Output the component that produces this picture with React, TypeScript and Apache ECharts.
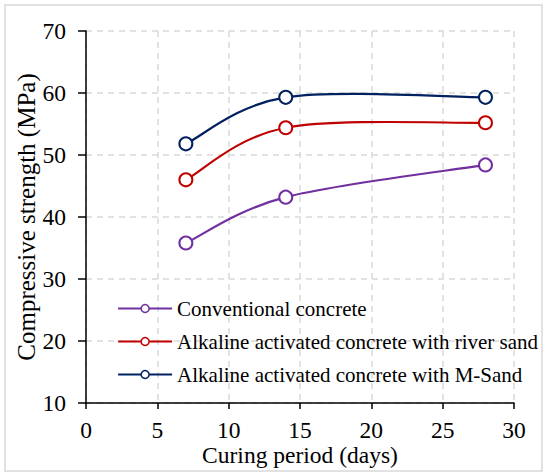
import React, { useEffect, useRef } from "react";
import * as echarts from "echarts";

const days = [7, 14, 28];
const conventional = [35.8, 43.2, 48.4];
const riverSand = [46.0, 54.4, 55.2];
const mSand = [51.8, 59.3, 59.3];
const seriesNames = [
  "Conventional concrete",
  "Alkaline activated concrete with river sand",
  "Alkaline activated concrete with M-Sand",
];
const colors = ["#7030A0", "#C00000", "#002060"];

const FONT = "'Liberation Serif', 'Times New Roman', serif";

export default function App() {
  const ref = useRef<HTMLDivElement>(null);
  useEffect(() => {
    if (!ref.current) return;
    const chart = echarts.init(ref.current, undefined, { renderer: "svg" });
    const all = [conventional, riverSand, mSand];

    const curveSeries = all.map((vals, i) => ({
      type: "custom",
      silent: true,
      z: 2,
      data: days.map((d, j) => [d, vals[j]]),
      encode: { x: 0, y: 1 },
      renderItem: (params: any, api: any) => {
        const k = params.dataIndex;
        if (k >= days.length - 1) return null;
        const pts = days.map((d, j) => api.coord([d, vals[j]]));
        const p0 = pts[Math.max(k - 1, 0)];
        const p1 = pts[k];
        const p2 = pts[k + 1];
        const p3 = pts[Math.min(k + 2, pts.length - 1)];
        return {
          type: "bezierCurve",
          shape: {
            x1: p1[0],
            y1: p1[1],
            x2: p2[0],
            y2: p2[1],
            cpx1: p1[0] + (p2[0] - p0[0]) / 6,
            cpy1: p1[1] + (p2[1] - p0[1]) / 6,
            cpx2: p2[0] - (p3[0] - p1[0]) / 6,
            cpy2: p2[1] - (p3[1] - p1[1]) / 6,
          },
          style: { fill: "none", stroke: colors[i], lineWidth: 2.2 },
        };
      },
    }));

    const markerSeries = all.map((vals, i) => ({
      name: seriesNames[i],
      type: "line",
      data: days.map((d, j) => [d, vals[j]]),
      symbol: "circle",
      symbolSize: 13,
      lineStyle: { color: colors[i], width: 2, opacity: 0 },
      itemStyle: { color: "#ffffff", borderColor: colors[i], borderWidth: 2 },
      z: 5,
    }));

    chart.setOption({
      animation: false,
      backgroundColor: "#ffffff",
      graphic: [
        {
          type: "rect",
          shape: { x: 5, y: 5, width: 537, height: 466 },
          style: { fill: "none", stroke: "#d9d9d9", lineWidth: 1.5 },
          silent: true,
        },
      ],
      grid: { left: 86, right: 33, top: 31, bottom: 72 },
      xAxis: {
        type: "value",
        min: 0,
        max: 30,
        interval: 5,
        name: "Curing period (days)",
        nameLocation: "middle",
        nameGap: 40,
        nameMoveOverlap: false,
        nameTextStyle: { fontFamily: FONT, fontSize: 23.5, color: "#000" },
        axisLine: { show: true, onZero: false, lineStyle: { color: "#000", width: 1.5 } },
        axisTick: { show: true, length: 6, lineStyle: { color: "#000", width: 1.5 } },
        axisLabel: { fontFamily: FONT, fontSize: 23.5, color: "#000", margin: 15 },
        splitLine: { show: true, lineStyle: { color: "#d9d9d9", type: [6, 5], width: 1.5 } },
      },
      yAxis: {
        type: "value",
        min: 10,
        max: 70,
        interval: 10,
        name: "Compressive strength (MPa)",
        nameLocation: "middle",
        nameGap: 47,
        nameMoveOverlap: false,
        nameTextStyle: { fontFamily: FONT, fontSize: 25, color: "#000" },
        axisLine: { show: true, lineStyle: { color: "#000", width: 1.5 } },
        axisTick: { show: true, length: 8, lineStyle: { color: "#000", width: 1.5 } },
        axisLabel: {
          fontFamily: FONT,
          fontSize: 23.5,
          color: "#000",
          margin: 20,
          padding: [6, 0, 0, 0],
        },
        splitLine: { show: true, lineStyle: { color: "#d9d9d9", type: [6, 5], width: 1.5 } },
      },
      legend: {
        orient: "vertical",
        left: 112,
        top: 293,
        itemGap: 12,
        itemWidth: 54,
        itemHeight: 10,
        textStyle: { fontFamily: FONT, fontSize: 21, color: "#000" },
        data: seriesNames.map((n, i) => ({
          name: n,
          lineStyle: { color: colors[i], width: 2.2, opacity: 1 },
          itemStyle: { color: "#ffffff", borderColor: colors[i], borderWidth: 1.5 },
        })),
      },
      series: [...curveSeries, ...markerSeries],
    });
    return () => chart.dispose();
  }, []);
  return <div ref={ref} style={{ width: 547, height: 475, position: "absolute", left: 0, top: 0 }} />;
}
